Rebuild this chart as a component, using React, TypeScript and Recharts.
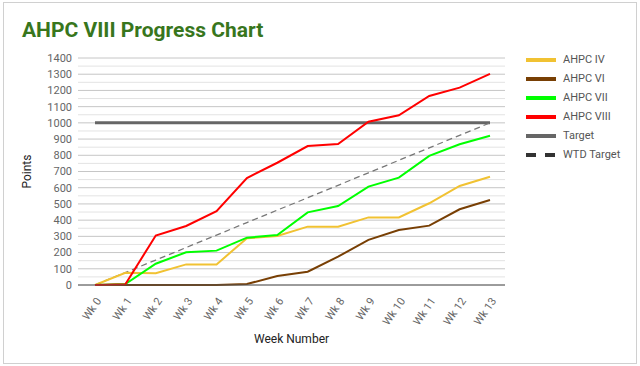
import { LineChart, Line, XAxis, YAxis, CartesianGrid, ReferenceLine, Label } from 'recharts';

const weeks = ['Wk 0', 'Wk 1', 'Wk 2', 'Wk 3', 'Wk 4', 'Wk 5', 'Wk 6', 'Wk 7', 'Wk 8', 'Wk 9', 'Wk 10', 'Wk 11', 'Wk 12', 'Wk 13'];
const ahpc4 = [0, 75, 72, 127, 127, 288, 302, 360, 360, 417, 417, 504, 611, 668];
const ahpc6 = [0, 0, 0, 0, 0, 6, 55, 82, 175, 278, 339, 366, 467, 524];
const ahpc7 = [0, 6, 131, 202, 212, 292, 308, 448, 487, 607, 662, 796, 868, 921];
const ahpc8 = [0, 5, 305, 364, 456, 660, 754, 857, 870, 1007, 1047, 1166, 1217, 1302];
const target = [1000, 1000, 1000, 1000, 1000, 1000, 1000, 1000, 1000, 1000, 1000, 1000, 1000, 1000];
const wtdTarget = [0, 77, 154, 231, 308, 385, 462, 538, 615, 692, 769, 846, 923, 1000];
const yTicks = [0, 100, 200, 300, 400, 500, 600, 700, 800, 900, 1000, 1100, 1200, 1300, 1400];
const minorTicks = [50, 150, 250, 350, 450, 550, 650, 750, 850, 950, 1050, 1150, 1250, 1350];

const data = weeks.map((wk, i) => ({
  wk,
  ahpc4: ahpc4[i],
  ahpc6: ahpc6[i],
  ahpc7: ahpc7[i],
  ahpc8: ahpc8[i],
  target: target[i],
  wtd: wtdTarget[i],
}));

const legendItems = [
  { name: 'AHPC IV', color: '#f1c232', dash: false },
  { name: 'AHPC VI', color: '#783f04', dash: false },
  { name: 'AHPC VII', color: '#00ff00', dash: false },
  { name: 'AHPC VIII', color: '#ff0000', dash: false },
  { name: 'Target', color: '#666666', dash: false },
  { name: 'WTD Target', color: '#333333', dash: true },
];

const font = 'Roboto, Arial, sans-serif';

const WeekTick = (props: any) => {
  const { x, y, payload } = props;
  return (
    <text
      x={x + 4}
      y={y + 6}
      transform={`rotate(-55, ${x + 4}, ${y + 6})`}
      textAnchor="end"
      dominantBaseline="central"
      fontSize={11}
      fill="#666"
      fontFamily={font}
    >
      {payload.value}
    </text>
  );
};

const App = () => {
  return (
    <div style={{ position: 'absolute', left: 0, top: 0, width: 640, height: 366, background: '#fff', fontFamily: font }}>
      <div style={{ position: 'absolute', left: 3, top: 2, width: 632, height: 360, border: '1px solid #d0d0d0' }} />
      <div style={{ position: 'absolute', left: 22, top: 18, fontSize: 21, fontWeight: 'bold', color: '#38761d' }}>
        AHPC VIII Progress Chart
      </div>
      <LineChart width={640} height={366} data={data} margin={{ top: 58, right: 135, bottom: 0, left: 0 }}>
        <CartesianGrid vertical={false} stroke="#c6c6c6" />
        {minorTicks.map((v) => (
          <ReferenceLine key={v} y={v} stroke="#e3e3e3" />
        ))}
        <XAxis
          dataKey="wk"
          interval={0}
          height={81}
          padding={{ left: 17, right: 15 }}
          tick={<WeekTick />}
          tickLine={false}
          axisLine={{ stroke: '#555', strokeWidth: 1 }}
        >
          <Label value="Week Number" position="insideBottom" offset={23} fill="#222" fontSize={12} fontFamily={font} />
        </XAxis>
        <YAxis
          width={78}
          domain={[0, 1400]}
          ticks={yTicks}
          interval={0}
          tickSize={4}
          tickMargin={2}
          tickLine={false}
          axisLine={false}
          tick={{ fill: '#666', fontSize: 11, fontFamily: font }}
        >
          <Label
            content={({ viewBox }: any) => {
              const cy = viewBox.y + viewBox.height / 2;
              return (
                <text x={31} y={cy} transform={`rotate(-90, 31, ${cy})`} textAnchor="middle" fontSize={12} fill="#222" fontFamily={font}>
                  Points
                </text>
              );
            }}
          />
        </YAxis>
        <Line dataKey="target" stroke="#666666" strokeWidth={3} dot={false} isAnimationActive={false} />
        <Line dataKey="wtd" stroke="#777777" strokeWidth={1.3} strokeDasharray="6 4" dot={false} isAnimationActive={false} />
        <Line dataKey="ahpc4" stroke="#f1c232" strokeWidth={2} dot={false} isAnimationActive={false} />
        <Line dataKey="ahpc6" stroke="#783f04" strokeWidth={2} dot={false} isAnimationActive={false} />
        <Line dataKey="ahpc7" stroke="#00ff00" strokeWidth={2} dot={false} isAnimationActive={false} />
        <Line dataKey="ahpc8" stroke="#ff0000" strokeWidth={2} dot={false} isAnimationActive={false} />
      </LineChart>
      <div style={{ position: 'absolute', left: 526, top: 50 }}>
        {legendItems.map((item) => (
          <div key={item.name} style={{ display: 'flex', alignItems: 'center', height: 19 }}>
            <svg width={30} height={6} style={{ marginRight: 7 }}>
              <line
                x1={0}
                y1={3}
                x2={30}
                y2={3}
                stroke={item.color}
                strokeWidth={4}
                strokeDasharray={item.dash ? '10 9' : undefined}
              />
            </svg>
            <span style={{ fontSize: 11, color: '#555' }}>{item.name}</span>
          </div>
        ))}
      </div>
    </div>
  );
};

export default App;
